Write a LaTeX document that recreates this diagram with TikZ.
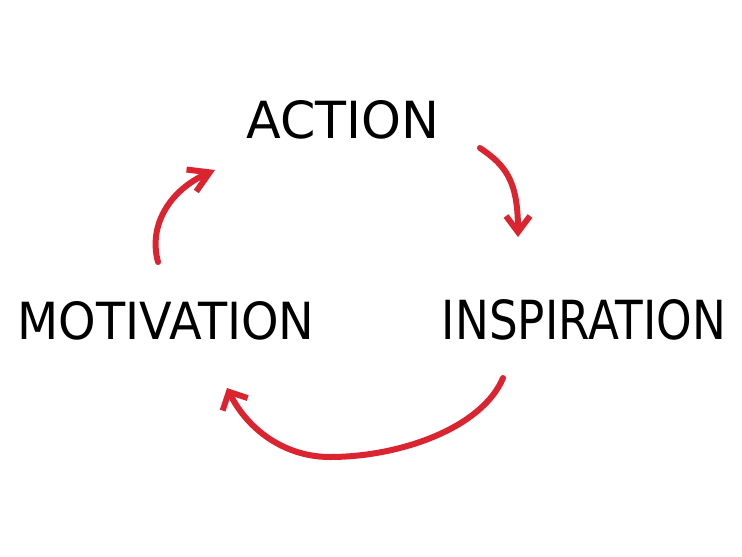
\documentclass[tikz,border=0pt]{standalone}
\usepackage{fontspec}
\setmainfont{DejaVu Sans}
\usetikzlibrary{arrows.meta}
\definecolor{pen}{RGB}{220,36,48}
\tikzset{
  word/.style={inner sep=0pt, anchor=center, text=black},
  loop/.style={draw=pen, line width=6pt, line cap=round, line join=round},
}
\begin{document}
\begin{tikzpicture}[x=1pt,y=-1pt]
\useasboundingbox (0,0) rectangle (742,557);
\node[word] (action) at (343,120) {\resizebox{193pt}{38pt}{ACTION}};
\node[word] (motivation) at (166,321) {\resizebox{297pt}{38pt}{MOTIVATION}};
\node[word] (inspiration) at (584,320) {\resizebox{284pt}{40pt}{INSPIRATION}};
\coordinate (a1s) at (158,262);
\coordinate (a1e) at (215,170);
\coordinate (a2s) at (480,148);
\coordinate (a2e) at (518,237);
\coordinate (a3s) at (503,378);
\coordinate (a3m) at (330,457);
\coordinate (a3e) at (227,388);
\draw[loop, -{Straight Barb[length=20pt,width=24pt]}]
  (a1s) .. controls (148,225) and (170,190) .. (a1e);
\draw[loop, -{Straight Barb[length=16pt,width=24pt]}]
  (a2s) .. controls (505,165) and (518,180) .. (a2e);
\draw[loop, -{Straight Barb[length=14pt,width=28pt]}]
  (a3s) .. controls (482,428) and (400,457) .. (a3m)
  .. controls (285,457) and (248,430) .. (a3e);
\end{tikzpicture}
\end{document}
